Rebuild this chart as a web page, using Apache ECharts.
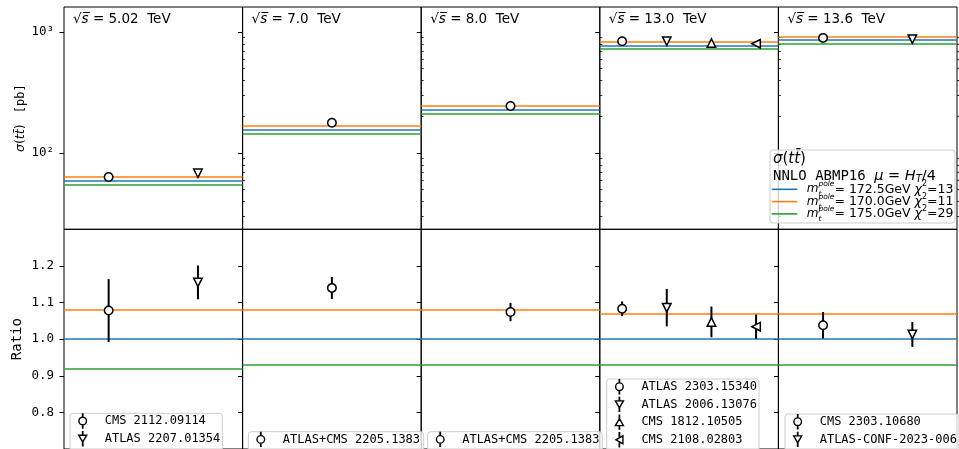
<!DOCTYPE html>
<html>
<head>
<meta charset="utf-8">
<script src="https://cdn.jsdelivr.net/npm/echarts@6/dist/echarts.min.js"></script>
<style>
  html, body { margin: 0; padding: 0; background: #fff; }
  #chart { width: 959px; height: 449px; }
</style>
</head>
<body>
<div id="chart"></div>
<script>
// centre-of-mass energies (TeV), one panel each
const energies = ['5.02', '7.0', '8.0', '13.0', '13.6'];

// theory: NNLO ABMP16, mu = H_T/4, three top pole masses
const theoryMass = ['172.5', '170.0', '175.0'];
const theoryChi2 = [13, 11, 29];
const theoryColors = ['#1f77b4', '#ff7f0e', '#2ca02c'];
const xsec1725 = [59.0, 156.5, 228, 775, 862];
const xsec1700 = [64.0, 169, 245.5, 829, 923];
const xsec1750 = [54.4, 145, 212, 724, 805];
const ratio1725 = [1.0, 1.0, 1.0, 1.0, 1.0];
const ratio1700 = [1.085, 1.080, 1.078, 1.071, 1.071];
const ratio1750 = [0.922, 0.927, 0.929, 0.934, 0.934];

// measurements, per panel
const expNames = [
  ['CMS 2112.09114', 'ATLAS 2207.01354'],
  ['ATLAS+CMS 2205.13830'],
  ['ATLAS+CMS 2205.13830'],
  ['ATLAS 2303.15340', 'ATLAS 2006.13076', 'CMS 1812.10505', 'CMS 2108.02803'],
  ['CMS 2303.10680', 'ATLAS-CONF-2023-006']
];
const expMarkers = [
  ['circle', 'down'], ['circle'], ['circle'],
  ['circle', 'down', 'up', 'left'], ['circle', 'down']
];
const expXsec = [[63.6, 68.2], [178.4], [245], [839, 841, 811, 801], [895, 873]];
const expRatio = [[1.078, 1.155], [1.140], [1.074], [1.083, 1.086, 1.047, 1.034], [1.038, 1.013]];
const expRatioErr = [[0.086, 0.046], [0.030], [0.025], [0.020, 0.051, 0.042, 0.033], [0.036, 0.034]];

// axis ticks
const logMajor = [100, 1000];
const logMinor = [30, 40, 50, 60, 70, 80, 90, 200, 300, 400, 500, 600, 700, 800, 900];
const ratioTicks = [0.8, 0.9, 1.0, 1.1, 1.2];

const theoryXsec = [xsec1725, xsec1700, xsec1750];
const theoryRatio = [ratio1725, ratio1700, ratio1750];
const theoryLabels = theoryMass.map((m, k) => 'm_t^pole = ' + m + 'GeV  chi2=' + theoryChi2[k]);

const mono = 'DejaVu Sans Mono';
const sans = 'DejaVu Sans';

const panelLeft = 64, panelWidth = 178.6;
const topY = 7, topH = 222.3, botY = 229.3, botH = 222.4;
const legendBoxLeft = [70, 248.3, 427.7, 606.7, 785];
const legendBoxTop = [413.3, 431.7, 431.7, 379, 414];

const symbolOf = {
  circle: ['circle', 0],
  down: ['triangle', 180],
  up: ['triangle', 0],
  left: ['triangle', 90]
};
// legend icons: marker with its error bar
const bar = (y0, y1) => 'M4.8,' + y0 + 'H5.2V' + y1 + 'H4.8Z';
const iconOf = {
  circle: 'path://M8.8,7A3.8,3.8,0,1,1,1.2,7A3.8,3.8,0,1,1,8.8,7Z' + bar(0, 3.2) + bar(10.8, 14),
  down: 'path://M1,3.5L9,3.5L5,10.5Z' + bar(0, 3.5) + bar(10.5, 14),
  up: 'path://M5,3.5L9,10.5L1,10.5Z' + bar(0, 3.5) + bar(10.5, 14),
  left: 'path://M1.5,7L8.5,3L8.5,11Z' + bar(0, 5) + bar(9, 14)
};
const supDigits = { 2: '\u00b2', 3: '\u00b3' };

const grids = [], xAxes = [], yAxes = [], series = [], legends = [], titles = [];

energies.forEach((e, p) => {
  const left = panelLeft + p * panelWidth;
  const gT = grids.length;
  grids.push({ left: left, top: topY, width: panelWidth, height: topH, show: true, borderColor: '#000', borderWidth: 1 });
  const gB = grids.length;
  grids.push({ left: left, top: botY, width: panelWidth, height: botH, show: true, borderColor: '#000', borderWidth: 1 });

  [gT, gB].forEach(g => xAxes.push({
    gridIndex: g, type: 'category', data: expNames[p], boundaryGap: true,
    axisLine: { show: false }, axisTick: { show: false }, axisLabel: { show: false }, splitLine: { show: false }
  }));

  const yMaj = yAxes.length;
  yAxes.push({
    gridIndex: gT, type: 'log', logBase: 10, min: 23.5, max: 1610,
    axisLine: { show: false }, splitLine: { show: false },
    axisTick: { show: true, length: 4.5, customValues: logMajor, lineStyle: { color: '#000', width: 1 } },
    axisLabel: {
      show: p === 0, customValues: logMajor, margin: 10, color: '#000', fontFamily: mono, fontSize: 12.5,
      formatter: v => '10' + supDigits[Math.round(Math.log10(v))]
    },
    name: p === 0 ? '{it|\u03c3}{rm|(}{it|tt\u0304}{rm|) }{mo| [pb]}' : '',
    nameLocation: 'middle', nameGap: 29, nameRotate: 90,
    nameTextStyle: {
      color: '#000',
      rich: {
        it: { fontFamily: sans, fontStyle: 'italic', fontSize: 12.5, color: '#000' },
        rm: { fontFamily: sans, fontSize: 12.5, color: '#000' },
        mo: { fontFamily: mono, fontSize: 12, color: '#000' }
      }
    }
  });
  yAxes.push({
    gridIndex: gT, type: 'log', logBase: 10, min: 23.5, max: 1610,
    axisLine: { show: false }, splitLine: { show: false }, axisLabel: { show: false },
    axisTick: { show: true, length: 2.5, customValues: logMinor, lineStyle: { color: '#000', width: 0.8 } }
  });
  const yRat = yAxes.length;
  yAxes.push({
    gridIndex: gB, type: 'value', min: 0.7, max: 1.3,
    axisLine: { show: false }, splitLine: { show: false },
    axisTick: { show: true, length: 4.5, customValues: ratioTicks, lineStyle: { color: '#000', width: 1 } },
    axisLabel: {
      show: p === 0, customValues: ratioTicks, margin: 10, color: '#000', fontFamily: mono, fontSize: 12.5,
      formatter: v => v.toFixed(1)
    },
    name: p === 0 ? 'Ratio' : '',
    nameLocation: 'middle', nameGap: 40, nameRotate: 90,
    nameTextStyle: { color: '#000', fontFamily: mono, fontSize: 14 }
  });

  // theory lines
  theoryLabels.forEach((name, k) => {
    [[gT, yMaj, theoryXsec[k][p]], [gB, yRat, theoryRatio[k][p]]].forEach(([g, y, v]) => {
      series.push({
        type: 'line', name: name, xAxisIndex: g, yAxisIndex: y, data: [],
        symbol: 'none', color: theoryColors[k], lineStyle: { width: 1.6 }, z: 2,
        markLine: {
          symbol: 'none', silent: true, animation: false, label: { show: false },
          lineStyle: { color: theoryColors[k], width: 1.6, type: 'solid' },
          data: [{ yAxis: v }]
        }
      });
    });
  });

  // measurements
  expNames[p].forEach((name, i) => {
    const [sym, rot] = symbolOf[expMarkers[p][i]];
    const markerStyle = { color: '#fff', borderColor: '#000', borderWidth: 1.5, opacity: 1 };
    series.push({
      type: 'scatter', name: name, xAxisIndex: gT, yAxisIndex: yMaj,
      data: [[i, expXsec[p][i]]], symbol: sym, symbolRotate: rot, symbolSize: 8.5,
      itemStyle: markerStyle, z: 6
    });
    series.push({
      type: 'custom', name: name, xAxisIndex: gB, yAxisIndex: yRat, z: 5,
      data: [[i, expRatio[p][i], expRatioErr[p][i]]],
      renderItem: (params, api) => {
        const x = api.value(0), y = api.value(1), err = api.value(2);
        const a = api.coord([x, y + err]), b = api.coord([x, y - err]);
        return { type: 'line', shape: { x1: a[0], y1: a[1], x2: b[0], y2: b[1] }, style: { stroke: '#000', lineWidth: 2 } };
      }
    });
    series.push({
      type: 'scatter', name: name, xAxisIndex: gB, yAxisIndex: yRat,
      data: [[i, expRatio[p][i]]], symbol: sym, symbolRotate: rot, symbolSize: 8.5,
      itemStyle: markerStyle, z: 6
    });
  });

  // per-panel measurement legend
  const clipped = p === 1 || p === 2;
  legends.push({
    data: expNames[p].map((n, i) => ({ name: n, icon: iconOf[expMarkers[p][i]] })),
    orient: 'vertical', left: legendBoxLeft[p], top: legendBoxTop[p], height: 300,
    itemWidth: 10, itemHeight: 14, itemGap: 2.3, selectedMode: false, symbolRotate: 0,
    padding: [0, clipped ? 0 : 2, 14, 8],
    borderColor: '#cccccc', borderWidth: 1, borderRadius: 3, backgroundColor: 'rgba(255,255,255,0.8)',
    itemStyle: { color: '#fff', borderColor: '#000', borderWidth: 1.4 },
    textStyle: {
      fontFamily: mono, fontSize: 12, lineHeight: 12, color: '#000', padding: [0, 0, 0, 12],
      width: clipped ? (panelLeft + (p + 1) * panelWidth - legendBoxLeft[p] - 32) : undefined,
      overflow: clipped ? 'truncate' : 'none', ellipsis: ''
    }
  });

  titles.push({
    text: '{rm|\u221a}{it|s\u0305}{rm| = ' + e + '  TeV}',
    left: left + 9, top: 11.5, padding: 0,
    textStyle: {
      fontWeight: 'normal',
      rich: {
        rm: { fontFamily: sans, fontSize: 13.5, fontWeight: 'normal', color: '#000', lineHeight: 15 },
        it: { fontFamily: sans, fontStyle: 'italic', fontSize: 13.5, fontWeight: 'normal', color: '#000', lineHeight: 15 }
      }
    }
  });
});

// theory legend (lines); its frame and header are graphic elements
legends.push({
  data: theoryLabels.map((n, k) => ({ name: n, itemStyle: { color: theoryColors[k] } })),
  orient: 'vertical', left: 771.7, top: 180.3, height: 200, z: 8,
  icon: 'rect', symbolKeepAspect: false,
  itemWidth: 25.6, itemHeight: 1.6, itemGap: -5.7, padding: 0, selectedMode: false,
  formatter: name => {
    const k = theoryLabels.indexOf(name);
    return '{m|m}{t|t}{p|pole}{r|= ' + theoryMass[k] + 'GeV }{c|\u03c7}{s|2}{r|=' + theoryChi2[k] + '}';
  },
  textStyle: {
    padding: [0, 0, 0, 4.4],
    rich: {
      m: { fontFamily: sans, fontStyle: 'italic', fontSize: 12, color: '#000', lineHeight: 18 },
      t: { fontFamily: sans, fontStyle: 'italic', fontSize: 7.5, color: '#000', lineHeight: 8, width: 0.01, verticalAlign: 'bottom' },
      p: { fontFamily: sans, fontStyle: 'italic', fontSize: 7.5, color: '#000', lineHeight: 8, verticalAlign: 'top' },
      r: { fontFamily: sans, fontSize: 12.5, color: '#000', lineHeight: 18 },
      c: { fontFamily: sans, fontStyle: 'italic', fontSize: 12.5, color: '#000', lineHeight: 18 },
      s: { fontFamily: sans, fontSize: 8, color: '#000', lineHeight: 8, verticalAlign: 'top' }
    }
  }
});

const graphic = [
  {
    type: 'rect', z: 7, shape: { x: 770, y: 150, width: 185, height: 73, r: 3 },
    style: { fill: 'rgba(255,255,255,0.8)', stroke: '#cccccc', lineWidth: 1 }
  },
  {
    type: 'text', z: 8, x: 773, y: 159,
    style: {
      text: '{it|\u03c3}{rm|(}{it|tt\u0304}{rm|)}', verticalAlign: 'middle',
      rich: {
        it: { fontFamily: sans, fontStyle: 'italic', fontSize: 15, fill: '#000' },
        rm: { fontFamily: sans, fontSize: 15, fill: '#000' }
      }
    }
  },
  {
    type: 'text', z: 8, x: 773, y: 176.7,
    style: {
      text: '{mo|NNLO ABMP16 }{it|\u03bc}{rm| = }{it|H}{sub|T}{rm|/4}', verticalAlign: 'middle',
      rich: {
        mo: { fontFamily: mono, fontSize: 14, fill: '#000' },
        it: { fontFamily: sans, fontStyle: 'italic', fontSize: 14.5, fill: '#000' },
        rm: { fontFamily: sans, fontSize: 14.5, fill: '#000' },
        sub: { fontFamily: sans, fontStyle: 'italic', fontSize: 10, fill: '#000', verticalAlign: 'bottom', lineHeight: 10 }
      }
    }
  }
];

const chart = echarts.init(document.getElementById('chart'));
chart.setOption({
  animation: false,
  backgroundColor: '#fff',
  title: titles,
  grid: grids,
  xAxis: xAxes,
  yAxis: yAxes,
  legend: legends,
  graphic: graphic,
  series: series
});
</script>
</body>
</html>
